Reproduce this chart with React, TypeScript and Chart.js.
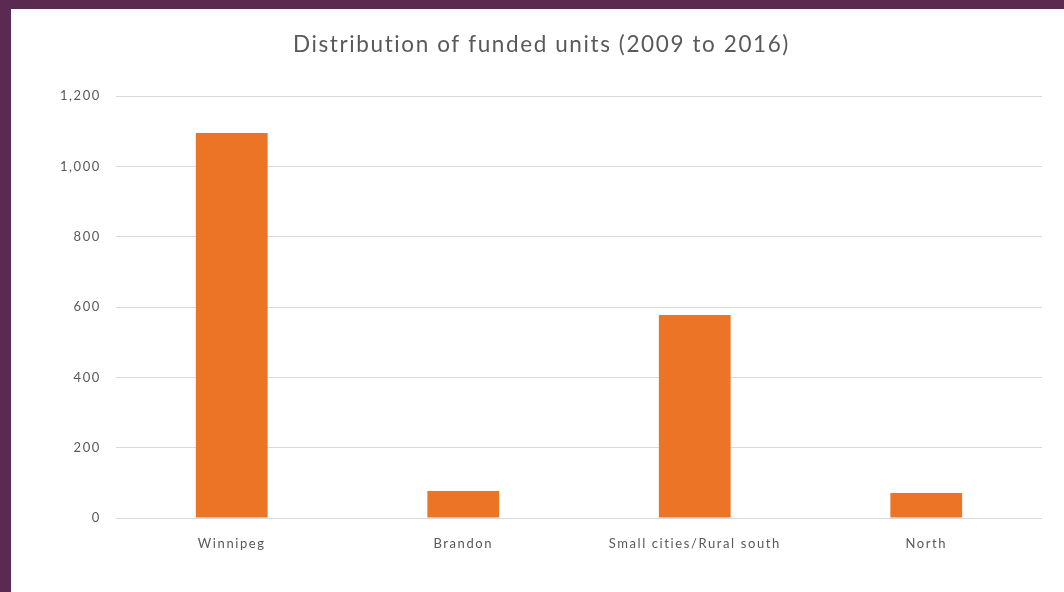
import React, { useEffect, useRef } from "react";
import { Chart, registerables } from "chart.js";

Chart.register(...registerables);

const categories = ["Winnipeg", "Brandon", "Small cities/Rural south", "North"];
const fundedUnits = [1095, 77, 577, 71];
const titleText = "Distribution of funded units (2009 to 2016)";

const spacingPlugin = {
  id: "letterSpacing",
  beforeDraw(chart: any) {
    (chart.ctx as any).letterSpacing = "1.6px";
  },
  afterDraw(chart: any) {
    (chart.ctx as any).letterSpacing = "0px";
  },
};

export default function App() {
  const ref = useRef<HTMLCanvasElement>(null);
  useEffect(() => {
    if (!ref.current) return;
    const chart = new Chart(ref.current, {
      type: "bar",
      data: {
        labels: categories,
        datasets: [
          {
            label: "Funded units",
            data: fundedUnits,
            backgroundColor: "#EC7426",
            borderWidth: 0,
            barPercentage: 0.31,
            categoryPercentage: 1,
          },
        ],
      },
      plugins: [spacingPlugin],
      options: {
        responsive: false,
        animation: false,
        maintainAspectRatio: false,
        layout: { padding: { left: 30, right: 22, top: 0, bottom: 0 } },
        plugins: {
          legend: { display: false },
          tooltip: { enabled: false },
          title: {
            display: true,
            text: titleText,
            color: "#595959",
            font: { family: "Lato", size: 22.5, weight: "normal" },
            padding: { top: 22, bottom: 38 },
          },
        },
        scales: {
          x: {
            grid: { display: false, drawTicks: false },
            border: { display: false },
            ticks: {
              color: "#595959",
              font: { family: "Lato", size: 13 },
              padding: 18,
              maxRotation: 0,
            },
            afterFit: (s: any) => {
              s.height = 74;
            },
          },
          y: {
            min: 0,
            max: 1200,
            grid: { color: "#d9d9d9", drawTicks: false },
            border: { display: false },
            ticks: {
              stepSize: 200,
              color: "#595959",
              font: { family: "Lato", size: 13 },
              padding: 15,
              callback: (v: any) => Number(v).toLocaleString("en-US"),
            },
            afterFit: (s: any) => {
              s.width = 75;
            },
          },
        },
      },
    });
    return () => chart.destroy();
  }, []);

  return (
    <div
      style={{
        position: "fixed",
        left: 0,
        top: 0,
        width: 1064,
        height: 592,
        background: "#5a2a52",
      }}
    >
      <div
        style={{
          position: "absolute",
          left: 11,
          top: 9,
          width: 1053,
          height: 583,
          background: "#ffffff",
        }}
      >
        <canvas ref={ref} width={1053} height={583} style={{ display: "block" }} />
      </div>
    </div>
  );
}
